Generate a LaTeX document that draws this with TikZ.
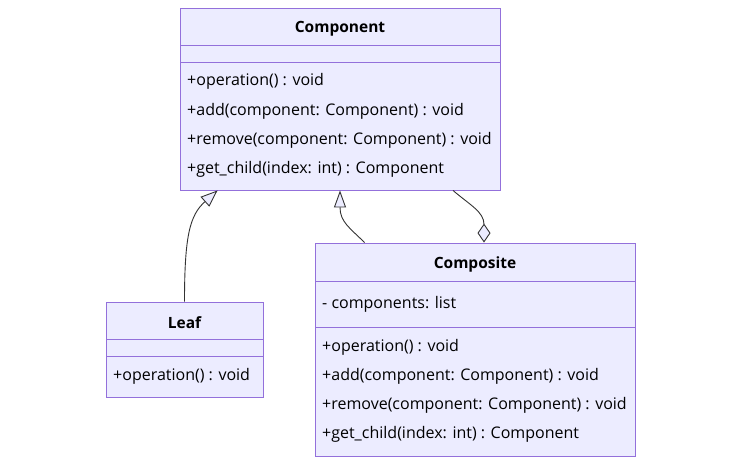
\documentclass[tikz,border=0pt]{standalone}
\usepackage{fontspec}
\setmainfont{Open Sans}
\usetikzlibrary{arrows.meta,calc}
\definecolor{umlfill}{HTML}{ECECFF}
\definecolor{umlline}{HTML}{9370DB}
\definecolor{umltext}{HTML}{333333}
\tikzset{cl/.style = {rectangle, draw=umlline, fill=umlfill, line width=0.9pt, inner sep=0pt},
           ti/.style = {font=\fontsize{15.5}{18}\selectfont\bfseries, text=black, inner sep=0pt},
           mb/.style = {font=\fontsize{16}{19}\selectfont, text=black, anchor=west, inner sep=0pt},
           sp/.style = {draw=umlline, line width=0.9pt},
           ed/.style = {draw=umltext, line width=0.9pt}}

\begin{document}
\begin{tikzpicture}[x=1pt, y=-1pt]
    \useasboundingbox (0,0) rectangle (741,464);
    % classes
    \node[cl, minimum width=320pt, minimum height=182pt] (comp) at (340,99) {};
    \node[cl, minimum width=320pt, minimum height=213pt] (compo) at (475,349.5) {};
    \node[cl, minimum width=157pt, minimum height=95pt] (leaf) at (184.5,349.5) {};
    \draw[sp] (180,45) -- (500,45); \draw[sp] (180,62) -- (500,62);
    \draw[sp] (315,281) -- (635,281); \draw[sp] (315,327) -- (635,327);
    \draw[sp] (106,339) -- (263,339); \draw[sp] (106,356) -- (263,356);
    \node[ti] (compt) at (340,29) {Component};
    \node[ti] (compot) at (475,264) {Composite};
    \node[ti] (leaft) at (184.5,323) {Leaf};
    \node[mb] (c1) at (187,81) {+operation() : void};
    \node[mb] (c2) at (187,111) {+add(component: Component) : void};
    \node[mb] (c3) at (187,140) {+remove(component: Component) : void};
    \node[mb] (c4) at (187,169) {+get\_child(index: int) : Component};
    \node[mb] (k0) at (322,304) {- components: list};
    \node[mb] (k1) at (322,347) {+operation() : void};
    \node[mb] (k2) at (322,376) {+add(component: Component) : void};
    \node[mb] (k3) at (322,405) {+remove(component: Component) : void};
    \node[mb] (k4) at (322,434) {+get\_child(index: int) : Component};
    \node[mb] (l1) at (113,376) {+operation() : void};
    % relations
    \draw[ed, -{Triangle[length=17pt, width=13pt, fill=umlfill]}] (leaf.north)
        .. controls (184.5,235) and (190,215) .. ($(comp.south west)+(38,0)$);
    \draw[ed, -{Triangle[length=17pt, width=12pt, fill=umlfill]}] ($(compo.north west)+(50,0)$)
        .. controls (350,228) and (340,222) .. (comp.south);
    \draw[ed, -{Diamond[length=19pt, width=13pt, fill=umlfill]}] ($(comp.south)+(113,0)$)
        .. controls (470,205) and (484,212) .. ($(compo.north)+(9,0)$);
\end{tikzpicture}
\end{document}
